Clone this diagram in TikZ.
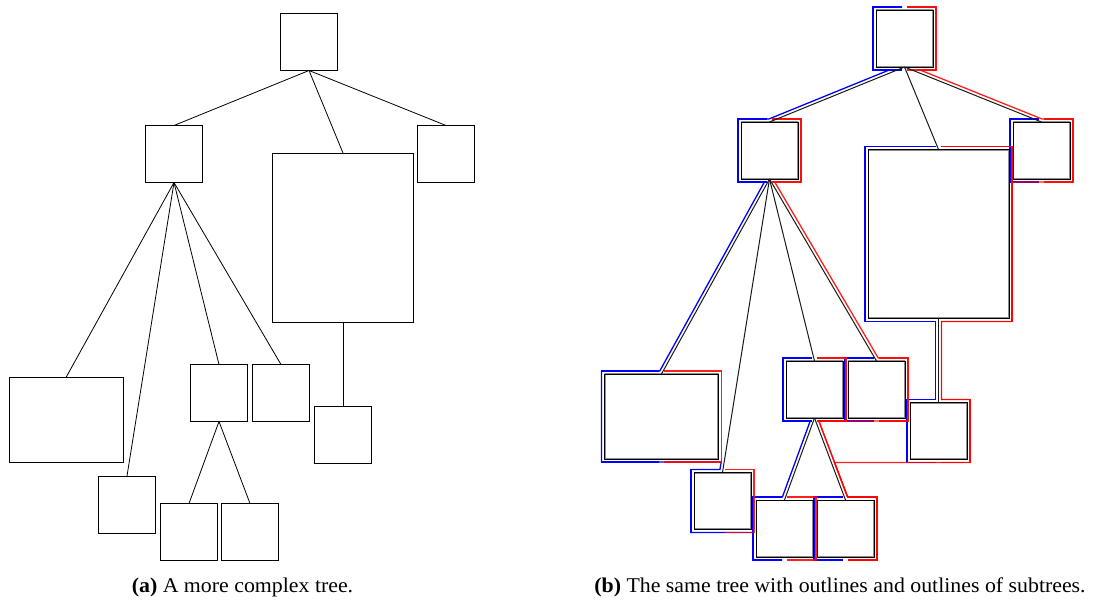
\documentclass[tikz,border=0pt]{standalone}
\usepackage{fontspec}
\setmainfont{Liberation Serif}[FakeStretch=1.04]

% Places the eleven boxes of the tree and joins them.
% #1 name prefix, #2 box style, #3 edge style
\newcommand\treenodes[3]{%
  \node[#2] (#1R) at (309,42) {};
  \node[#2] (#1A) at (174,154) {};
  \node[#2, minimum width=141pt, minimum height=169pt] (#1B) at (343,237.5) {};
  \node[#2] (#1C) at (446,154) {};
  \node[#2, minimum width=114pt, minimum height=85pt] (#1D) at (66,420) {};
  \node[#2] (#1E) at (127,504.5) {};
  \node[#2] (#1F) at (219,393) {};
  \node[#2] (#1G) at (281,393) {};
  \node[#2] (#1H) at (343,434.5) {};
  \node[#2] (#1I) at (189,532) {};
  \node[#2] (#1J) at (250,532) {};
  \foreach \p/\c in {R/A,R/B,R/C,A/D,A/E,A/F,A/G,B/H,F/I,F/J}
    \draw[#3] (#1\p.south) -- (#1\c.north);
}

% Own outline of one box: left half (blue) and right half (red).
% #1 x1, #2 x2, #3 top, #4 bottom
\newcommand\ownleft[4]{%
  \draw[lo] ({(#1+#2)/2-2.5},{#3-3}) -- ({#1-3},{#3-3}) -- ({#1-3},{#4+3}) -- ({(#1+#2)/2-2.5},{#4+3});}
\newcommand\ownright[4]{%
  \draw[ro] ({(#1+#2)/2+2.5},{#3-3}) -- ({#2+3},{#3-3}) -- ({#2+3},{#4+3}) -- ({(#1+#2)/2+2.5},{#4+3});}

\begin{document}
\begin{tikzpicture}[x=1pt, y=-1pt,
  lbox/.style={draw=black, line width=0.8pt, inner sep=0pt, outer sep=0pt,
    minimum width=57pt, minimum height=57pt},
  ledge/.style={draw=black, line width=0.8pt},
  rbox/.style={draw=black, line width=0.9pt, inner sep=0pt, outer sep=0pt,
    minimum width=57pt, minimum height=57pt,
    path picture={\draw[black!45, line width=2.8pt]
      (path picture bounding box.south west) rectangle (path picture bounding box.north east);}},
  redge/.style={draw=black!90, line width=1pt},
  lo/.style={draw=blue, line width=1.3pt},
  ro/.style={draw=red, line width=1.3pt, draw opacity=0.88},
  captext/.style={anchor=base, inner sep=0pt, font=\fontsize{21}{25}\selectfont}]
\useasboundingbox (0,0) rectangle (1103,601);

% plain tree
\treenodes{l}{lbox}{ledge}

% the same tree with outlines
\begin{scope}[shift={(595.5,-3.5)}]
  % left outlines of single boxes
  \ownleft{280.5}{337.5}{13.5}{70.5}
  \ownleft{145.5}{202.5}{125.5}{182.5}
  \ownleft{272.5}{413.5}{153}{322}
  \ownleft{417.5}{474.5}{125.5}{182.5}
  \ownleft{9}{123}{377.5}{462.5}
  \ownleft{98.5}{155.5}{476}{533}
  \ownleft{190.5}{247.5}{364.5}{421.5}
  \ownleft{252.5}{309.5}{364.5}{421.5}
  \ownleft{314.5}{371.5}{406}{463}
  \ownleft{160.5}{217.5}{503.5}{560.5}
  \ownleft{221.5}{278.5}{503.5}{560.5}
  % left outlines of subtrees
  \draw[lo] (306.5,10.5) -- (277.5,10.5) -- (277.5,73.5) -- (293.68,73.5) -- (173.41,122.5)
    -- (142.5,122.5) -- (142.5,185.5) -- (168.91,185.5) -- (64.23,374.5) -- (6,374.5)
    -- (6,465.5) -- (125.64,465.5) -- (124.44,473) -- (95.5,473) -- (95.5,536)
    -- (157.5,536) -- (157.5,563.5) -- (186.5,563.5);
  \draw[lo] (340.5,150) -- (269.5,150) -- (269.5,325) -- (340,325) -- (340,403)
    -- (311.5,403) -- (311.5,466) -- (340.5,466);
  \draw[lo] (216.5,361.5) -- (187.5,361.5) -- (187.5,424.5) -- (214.71,424.5) -- (186.90,500.5)
    -- (157.5,500.5) -- (157.5,563.5) -- (186.5,563.5);
  % right outlines of single boxes
  \ownright{280.5}{337.5}{13.5}{70.5}
  \ownright{145.5}{202.5}{125.5}{182.5}
  \ownright{272.5}{413.5}{153}{322}
  \ownright{417.5}{474.5}{125.5}{182.5}
  \ownright{9}{123}{377.5}{462.5}
  \ownright{98.5}{155.5}{476}{533}
  \ownright{190.5}{247.5}{364.5}{421.5}
  \ownright{252.5}{309.5}{364.5}{421.5}
  \ownright{314.5}{371.5}{406}{463}
  \ownright{160.5}{217.5}{503.5}{560.5}
  \ownright{221.5}{278.5}{503.5}{560.5}
  % right outlines of subtrees
  \draw[ro] (311.5,10.5) -- (340.5,10.5) -- (340.5,73.5) -- (324.53,73.5) -- (446.58,122.5)
    -- (477.5,122.5) -- (477.5,185.5) -- (416.5,185.5) -- (416.5,325) -- (346,325)
    -- (346,403) -- (374.5,403) -- (374.5,466) -- (239.03,466) -- (252.08,500.5)
    -- (281.5,500.5) -- (281.5,563.5) -- (252.5,563.5);
  \draw[ro] (176.5,122.5) -- (205.5,122.5) -- (205.5,185.5) -- (179.24,185.5) -- (282.72,361.5)
    -- (312.5,361.5) -- (312.5,424.5) -- (223.34,424.5) -- (252.08,500.5)
    -- (281.5,500.5) -- (281.5,563.5) -- (252.5,563.5);
  \draw[ro] (345.5,150) -- (416.5,150) -- (416.5,325) -- (346,325) -- (346,403)
    -- (374.5,403) -- (374.5,466) -- (345.5,466);
  \draw[ro] (221.5,361.5) -- (250.5,361.5) -- (250.5,424.5) -- (223.34,424.5) -- (252.08,500.5)
    -- (281.5,500.5) -- (281.5,563.5) -- (252.5,563.5);
  % boxes and edges on top
  \treenodes{r}{rbox}{redge}
\end{scope}

% captions
\node[captext] (capa) at (242.5,592) {\textbf{(a)} A more complex tree.};
\node[captext] (capb) at (840,592) {\textbf{(b)} The same tree with outlines and outlines of subtrees.};
\end{tikzpicture}
\end{document}
